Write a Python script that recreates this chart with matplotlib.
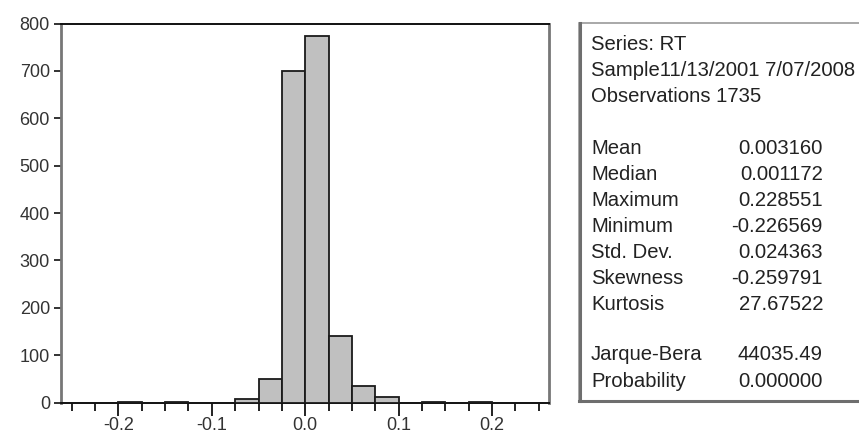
import matplotlib
matplotlib.use("Agg")
import matplotlib.pyplot as plt
from matplotlib.patches import Rectangle
from matplotlib.lines import Line2D
from matplotlib.ticker import MultipleLocator

plt.rcParams["font.family"] = ["Liberation Sans", "DejaVu Sans"]

# histogram of RT (bin width 0.025), only non-empty bins
bin_left = [-0.2, -0.15, -0.075, -0.05, -0.025, 0.0, 0.025, 0.05, 0.075, 0.125, 0.175]
counts = [2, 2, 7, 49, 700, 774, 141, 34, 11, 2, 2]
bin_width = 0.025

x_ticks = [-0.2, -0.1, 0.0, 0.1, 0.2]
y_ticks = [0, 100, 200, 300, 400, 500, 600, 700, 800]

header_lines = ["Series: RT", "Sample11/13/2001 7/07/2008", "Observations 1735"]
stat_names = ["Mean", "Median", "Maximum", "Minimum", "Std. Dev.", "Skewness", "Kurtosis"]
stat_values = ["0.003160", "0.001172", "0.228551", "-0.226569", "0.024363", "-0.259791", "27.67522"]
test_names = ["Jarque-Bera", "Probability"]
test_values = ["44035.49", "0.000000"]

W, H = 859, 437
fig = plt.figure(figsize=(W / 100, H / 100), dpi=100)


def fx(px):
    return px / W


def fy(py):
    return 1 - py / H


ax = fig.add_axes([fx(61), fy(402.5), fx(549 - 61), (402.5 - 23.5) / H])
ax.bar(bin_left, counts, width=bin_width, align="edge", color="#c0c0c0",
       edgecolor="#1a1a1a", linewidth=1.3, zorder=3)
ax.set_xlim(-0.2615, 0.261)
ax.set_ylim(0, 800)
ax.set_xticks(x_ticks)
ax.set_xticklabels(["-0.2", "-0.1", "0.0", "0.1", "0.2"])
ax.xaxis.set_minor_locator(MultipleLocator(0.025))
ax.set_yticks(y_ticks)
ax.tick_params(axis="x", which="major", length=9, width=1.4, direction="out",
               labelsize=13, labelcolor="#333333", pad=1.5, color="#222222")
ax.tick_params(axis="x", which="minor", length=6, width=1.4, direction="out",
               color="#222222")
ax.tick_params(axis="y", length=5, width=1.3, direction="out",
               labelsize=13, labelcolor="#333333", pad=3, color="#222222")
for side in ("top", "bottom"):
    ax.spines[side].set_color("#111111")
    ax.spines[side].set_linewidth(1.4)
for side in ("left", "right"):
    ax.spines[side].set_color("#777777")
    ax.spines[side].set_linewidth(2.0)

# statistics panel
box = Rectangle((fx(579), fy(401)), fx(880 - 579), (401 - 23) / H,
                transform=fig.transFigure, fill=False, edgecolor="#9a9a9a",
                linewidth=1.2)
fig.add_artist(box)
fig.add_artist(Line2D([fx(580), fx(580)], [fy(401), fy(23)], transform=fig.transFigure,
                      color="#6e6e6e", linewidth=2.2))
fig.add_artist(Line2D([fx(579), fx(870)], [fy(401), fy(401)], transform=fig.transFigure,
                      color="#6e6e6e", linewidth=2.2))

txt_kw = dict(fontsize=14.6, color="#222222", va="center")
for i, line in enumerate(header_lines):
    fig.text(fx(591), fy(45 + i * 26), line, ha="left", **txt_kw)
for i, (name, val) in enumerate(zip(stat_names, stat_values)):
    y = fy(148 + i * 26)
    fig.text(fx(591), y, name, ha="left", **txt_kw)
    fig.text(fx(823), y, val, ha="right", **txt_kw)
for i, (name, val) in enumerate(zip(test_names, test_values)):
    y = fy(355 + i * 26.5)
    fig.text(fx(591), y, name, ha="left", **txt_kw)
    fig.text(fx(823), y, val, ha="right", **txt_kw)

fig.savefig("out.png", dpi=100)
